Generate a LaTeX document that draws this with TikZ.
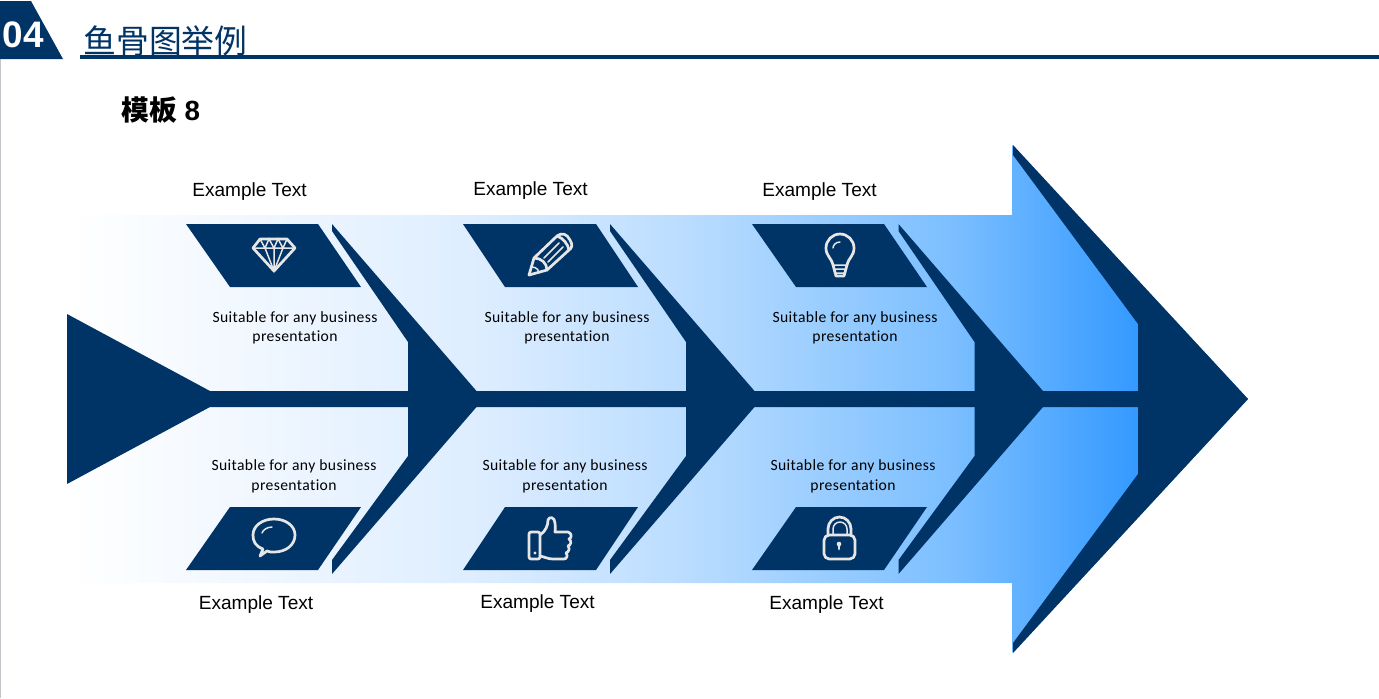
\documentclass[tikz,border=0pt]{standalone}
\usepackage{fontspec}
\setmainfont{Liberation Sans}
\newfontfamily\cjk{Noto Sans CJK SC}
\newfontfamily\calib[LetterSpace=2.5,Ligatures=NoCommon]{Carlito}
\definecolor{navy}{HTML}{003366}
\definecolor{iconwhite}{HTML}{E6E6E6}
\definecolor{leftrule}{HTML}{C4C6CC}
\definecolor{stopa}{HTML}{F4F9FF}
\definecolor{stopb}{HTML}{DDEDFF}
\definecolor{stopc}{HTML}{BBDDFF}
\definecolor{stopd}{HTML}{7CBFFF}
\definecolor{stope}{HTML}{3399FF}
\pgfdeclarehorizontalshading{bandfade}{100bp}{color(0bp)=(white); color(25bp)=(white);
  color(31bp)=(stopa); color(42.5bp)=(stopb); color(51bp)=(stopc); color(62.4bp)=(stopd);
  color(70.4bp)=(stope); color(100bp)=(stope)}
\tikzset{
  bone/.style={fill=navy, draw=none},
  plate/.style={fill=navy, draw=none},
  iconline/.style={draw=iconwhite, line width=1.55pt, line join=round, line cap=round},
  thinline/.style={draw=iconwhite, line width=0.85pt, line cap=round},
  headlabel/.style={font=\fontsize{10.85}{12}\selectfont, inner sep=0pt},
  bodylabel/.style={font=\calib\fontsize{8.9}{11.1}\selectfont, inner sep=0pt, align=center},
}
\begin{document}
\begin{tikzpicture}[x=0.02cm, y=-0.02cm]
  \useasboundingbox (0,0) rectangle (1379,698);
  \fill[white] (0,0) rectangle (1379,698);
  \draw[leftrule, line width=0.6pt] (0.5,59) -- (0.5,698);
  % arrow band
  \begin{scope}
    \clip (67,215) -- (1012,215) -- (1012,145) -- (1248,399) -- (1012,653) -- (1012,583) -- (67,583) -- cycle;
    \shade[shading=bandfade] (67,145) rectangle (1248,653);
  \end{scope}
  % header
  \fill[navy] (0,1) -- (31,1) -- (63,59) -- (0,59) -- cycle;
  \draw[navy, line width=1.9pt] (80,57) -- (1379,57);
  \node[text=white, font=\bfseries\fontsize{21}{22}\selectfont, inner sep=0pt] (num) at (23.5,35) {04};
  \node[text=navy, font=\cjk\fontsize{18.7}{20}\selectfont, inner sep=0pt, anchor=west] (title) at (83,41) {鱼骨图举例};
  \node[font=\bfseries\fontsize{15.8}{18}\selectfont, inner sep=0pt, anchor=west] (sub) at (121,110) {{\cjk\bfseries 模板} 8};
  % spine and tail
  \fill[bone] (67,314) -- (210,391) -- (1140,391) -- (1140,407) -- (210,407) -- (67,484) -- cycle;
  % bones
  \foreach \x in {0,278,566.5} {
    \fill[bone] (332+\x,224) -- (476.5+\x,391) -- (476.5+\x,407) -- (332+\x,574) -- (332+\x,560)
      -- (408+\x,456) -- (408+\x,342) -- (332+\x,231) -- cycle;
  }
  \fill[bone] (1013,145) -- (1248,399) -- (1013,653) -- (1013,643) -- (1138,474) -- (1138,324) -- (1013,155) -- cycle;
  % plates
  \foreach \a/\b/\c/\d in {186/318/361/230, 463/596/638/505, 752/884/927/796} {
    \fill[plate] (\a,224) -- (\b,224) -- (\c,287) -- (\d,287) -- cycle;
    \fill[plate] (\a,570) -- (\b,570) -- (\c,507) -- (\d,507) -- cycle;
  }
  % diamond
  \draw[iconline] (260,239) -- (287,239) -- (295,248) -- (274,271) -- (253,248) -- cycle;
  \draw[thinline] (253,248) -- (295,248) (260,239) -- (265,248) -- (269,239) -- (274,248) -- (278,239) -- (283,248) -- (287,239)
    (265,248) -- (274,271) -- (283,248) (274,248) -- (274,271);
  % pencil
  \draw[iconline] (529,275) -- (534,258) -- (557,236) .. controls (562,232) and (567,234) .. (570,240)
    .. controls (573,245) and (572,248) .. (569,250) -- (547,270) -- cycle;
  \draw[iconline] (534,258) .. controls (541,258) and (547,263) .. (547,270) (557,236) .. controls (563,238) and (568,244) .. (569,250);
  \draw[thinline] (544,258) -- (559,243) (548,262) -- (563,247) (532,267) .. controls (536,267) and (539,270) .. (539,273);
  % bulb
  \draw[iconline] (833,265) .. controls (831,257) and (826,256) .. (826,248) arc[start angle=180, end angle=-0, x radius=14, y radius=-14]
    .. controls (854,256) and (849,257) .. (847,265) -- (844,276) -- (836,276) -- cycle;
  \draw[thinline] (833,265) -- (847,265) (834,269) -- (846,269) (835,273) -- (845,273)
    (833,248) .. controls (833,245) and (836,242) .. (840,242);
  % speech
  \draw[iconline] (263,549) .. controls (255,546) and (253,541) .. (253,535) .. controls (253,526) and (262,519) .. (274,519)
    .. controls (286,519) and (295,526) .. (295,535) .. controls (295,545) and (286,552) .. (274,552)
    .. controls (271,552) and (269,552) .. (267,551) -- (260,556) -- cycle;
  \draw[thinline] (262,533) .. controls (263,530) and (267,527) .. (272,527);
  % thumb
  \draw[iconline, rounded corners=1.2pt] (529,532) -- (540,532) -- (540,559) -- (529,559) -- cycle;
  \draw[iconline] (540,535) .. controls (546,531) and (548,525) .. (548,520) .. controls (549,516) and (555,517) .. (555,523)
    .. controls (556,526) and (555,529) .. (555,532) -- (568,532) .. controls (572,533) and (572,538) .. (569,539)
    .. controls (572,541) and (571,545) .. (568,546) .. controls (570,548) and (569,552) .. (566,553)
    .. controls (568,555) and (567,559) .. (564,559) -- (553,559) .. controls (548,559) and (545,557) .. (540,556);
  \fill[iconwhite] (535,553) circle[radius=1.6];
  % lock
  \draw[iconline, rounded corners=3pt] (824,535) -- (855,535) -- (855,559) -- (824,559) -- cycle;
  \draw[iconline] (828,535) -- (828,529) arc[start angle=180, end angle=0, x radius=11.5, y radius=-12] -- (851,535);
  \draw[thinline] (833,535) -- (833,529) arc[start angle=180, end angle=0, x radius=7, y radius=-7] -- (847,535);
  \fill[iconwhite] (839,544) circle[radius=2.3] (837.8,545) -- (840.2,545) -- (839.6,550) -- (838.4,550) -- cycle;
  % labels
  \node[headlabel] (topa) at (249.5,191.5) {Example Text};
  \node[headlabel] (topb) at (530.5,190.5) {Example Text};
  \node[headlabel] (topc) at (819.5,191.5) {Example Text};
  \node[headlabel] (bota) at (256,604.5) {Example Text};
  \node[headlabel] (botb) at (537.5,603.5) {Example Text};
  \node[headlabel] (botc) at (826.5,604.5) {Example Text};
  \node[bodylabel] (texta) at (295,328) {Suitable for any business\\presentation};
  \node[bodylabel] (textb) at (567,328) {Suitable for any business\\presentation};
  \node[bodylabel] (textc) at (855,328) {Suitable for any business\\presentation};
  \node[bodylabel] (textd) at (294,476.5) {Suitable for any business\\presentation};
  \node[bodylabel] (texte) at (565,476.5) {Suitable for any business\\presentation};
  \node[bodylabel] (textf) at (853,476.5) {Suitable for any business\\presentation};
\end{tikzpicture}
\end{document}
